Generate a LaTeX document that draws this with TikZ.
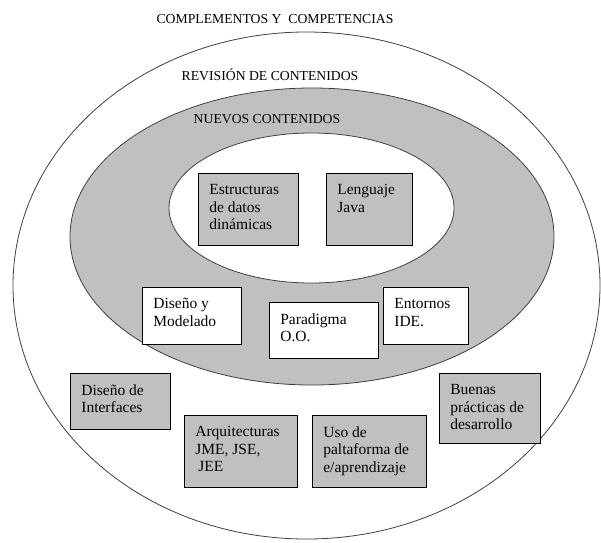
\documentclass[tikz,border=0pt]{standalone}
\usepackage{fontspec}
\setmainfont{Liberation Serif}

\definecolor{grisclaro}{HTML}{C0C0C0}
\definecolor{trazo}{HTML}{404040}

% caja de texto: ancho, alto (px), lineas
\newcommand{\caja}[3]{\parbox[t][\dimexpr#2pt-22pt\relax][t]{\dimexpr#1pt-22pt\relax}{\raggedright #3}}

\begin{document}
\begin{tikzpicture}[x=1pt,y=-1pt,
  anillo/.style={draw=trazo, line width=0.8pt},
  titulo/.style={anchor=base, font=\fontsize{13.7}{16}\selectfont},
  cajagris/.style={draw, line width=0.7pt, fill=grisclaro, anchor=north west, inner xsep=11pt, inner ysep=11pt, font=\fontsize{15.5}{17.5}\selectfont},
  cajablanca/.style={cajagris, fill=white}]
\useasboundingbox (0,0) rectangle (601,542);

\draw[anillo, fill=white] (306.5,285.5) ellipse [x radius=293.5pt, y radius=253.5pt];
\draw[anillo, fill=grisclaro] (312,236.5) ellipse [x radius=242pt, y radius=148.5pt];
\draw[anillo, fill=white] (311.5,208) ellipse [x radius=142.5pt, y radius=75pt];

\node[titulo] (compl) at (275,23) {COMPLEMENTOS Y \ COMPETENCIAS};
\node[titulo] (revi) at (270,80) {REVISIÓN DE CONTENIDOS};
\node[titulo] (nuevos) at (267,123) {NUEVOS CONTENIDOS};

\node[cajagris] (est) at (198,173) {\caja{100}{72}{Estructuras\\de datos\\dinámicas}};
\node[cajagris] (java) at (326,173) {\caja{86}{72}{Lenguaje\\Java}};

\node[cajablanca] (dism) at (142,287) {\caja{99}{57}{Diseño y\\Modelado}};
\node[cajablanca] (para) at (269,302) {\caja{109}{56}{Paradigma\\O.O.}};
\node[cajablanca] (ento) at (383,287) {\caja{85}{57}{Entornos\\IDE.}};

\node[cajagris] (inter) at (70,373) {\caja{100}{56}{Diseño de\\Interfaces}};
\node[cajagris] (arqui) at (184,415) {\caja{113}{72}{Arquitecturas\\JME, JSE,\\\hspace*{3pt}JEE}};
\node[cajagris] (uso) at (312,415) {\caja{114}{72}{Uso de\\paltaforma de\\e/aprendizaje}};
\node[cajagris] (buenas) at (439,373) {\caja{101}{70}{Buenas\\prácticas de\\desarrollo}};
\end{tikzpicture}
\end{document}
